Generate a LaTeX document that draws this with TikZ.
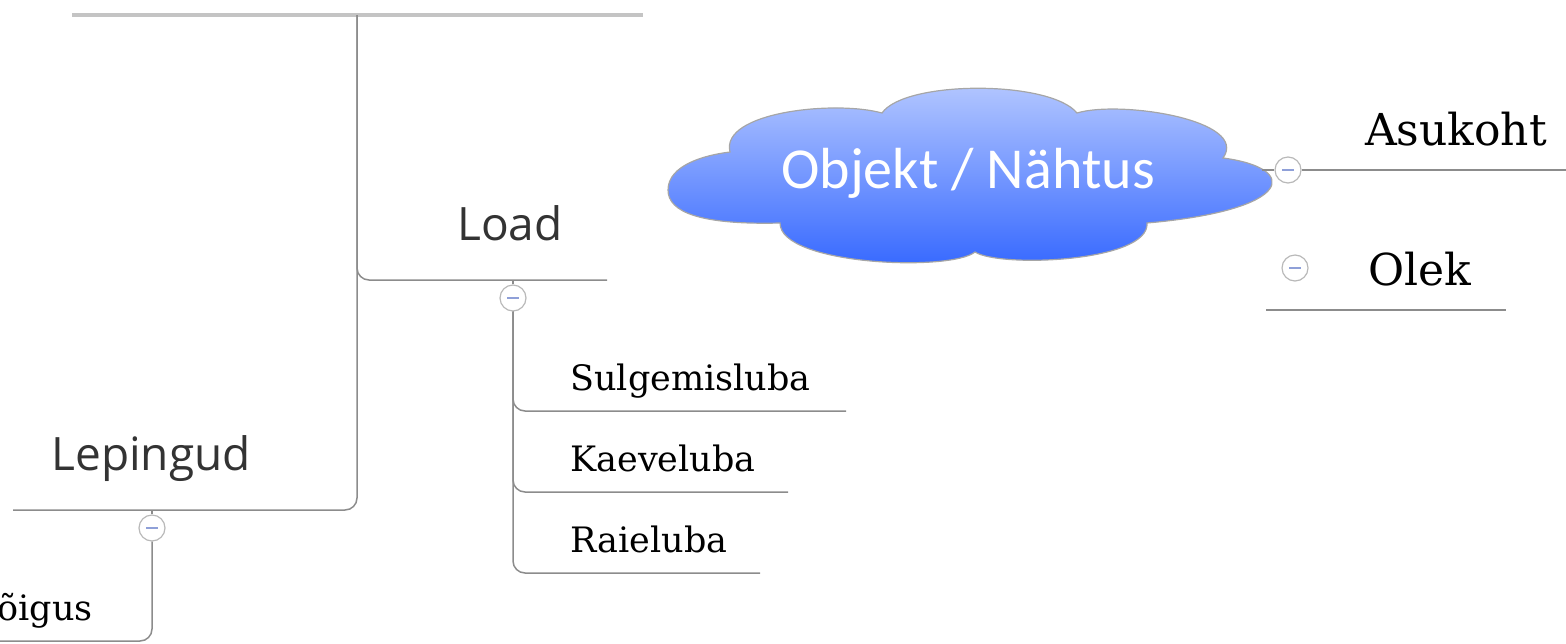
\documentclass[tikz,border=0pt]{standalone}
\usepackage{fontspec}
\setmainfont{DejaVu Serif}
\newfontfamily\mapsans{Open Sans}
\newfontfamily\cloudfont{Carlito}
\usetikzlibrary{positioning}
\definecolor{linegray}{HTML}{8C8C8C}
\definecolor{topgray}{HTML}{C4C4C4}
\definecolor{cloudtop}{HTML}{B5C8FF}
\definecolor{cloudbot}{HTML}{3366FF}
\definecolor{minusblue}{HTML}{8FA0D8}
\tikzset{branch/.style={draw=linegray, line width=0.75pt, rounded corners=6pt}}
\tikzset{topic/.style={font=\mapsans\fontsize{23}{27}\selectfont, text=black!80, inner sep=0pt, anchor=base}}
\tikzset{leaf/.style={font=\fontsize{17.5}{21}\selectfont, inner sep=0pt, anchor=base west}}
\tikzset{bigleaf/.style={font=\fontsize{22}{26}\selectfont, inner sep=0pt, anchor=base}}
\tikzset{fold/.style={circle, draw=gray!55, fill=white, line width=0.6pt, minimum size=13pt, inner sep=0pt,
  path picture={\draw[minusblue, line width=0.7pt] ([xshift=-3pt]path picture bounding box.center) -- ([xshift=3pt]path picture bounding box.center);}}}

\begin{document}
\begin{tikzpicture}[x=0.5pt,y=-0.5pt]
\useasboundingbox (0,0) rectangle (1566,643);

% The top bar
\coordinate (top west) at (72,15);
\coordinate (top east) at (643,15);
\coordinate (hub) at (357,15);
\draw[topgray, line width=1.6pt] (top west) -- (top east);

% Load
\coordinate (load line) at (607,280);
\node[topic] (load) at (510,240) {Load};
\draw[branch] (hub) |- (load line);
\node[fold] (f load) at (513,298) {};
\draw[branch] (f load) -- (f load |- load line);

\coordinate (sulg line) at (846,411);
\coordinate (kaeve line) at (788,492);
\coordinate (raie line) at (760,573);
\node[leaf] (sulg) at (570,390) {Sulgemisluba};
\node[leaf] (kaeve) at (570,471) {Kaeveluba};
\node[leaf] (raie) at (570,552) {Raieluba};
\draw[branch] (f load.south) |- (sulg line);
\draw[branch] (f load.south) |- (kaeve line);
\draw[branch] (f load.south) |- (raie line);

% Lepingud
\coordinate (lep line) at (13,510);
\node[topic] (lep) at (151,470) {Lepingud};
\draw[branch] (hub) |- (lep line);
\node[fold] (f lep) at (152,528) {};
\draw[branch] (f lep) -- (f lep |- lep line);
\coordinate (oigus line) at (0,641);
\node[leaf, anchor=base east] (oigus) at (93,620) {õigus};
\draw[branch] (f lep.south) |- (oigus line);

% The cloud
\shadedraw[top color=cloudtop, bottom color=cloudbot, draw=gray!70, line width=0.6pt]
  (668,190) .. controls (668,165) and (705,155) .. (730,152)
  .. controls (720,112) and (835,100) .. (882,113)
  .. controls (905,80) and (1050,80) .. (1077,113)
  .. controls (1120,100) and (1250,120) .. (1223,158)
  .. controls (1300,168) and (1295,210) .. (1147,223)
  .. controls (1150,262) and (1000,268) .. (975,252)
  .. controls (950,272) and (780,265) .. (780,223)
  .. controls (700,225) and (668,212) .. cycle;
\node[font=\cloudfont\fontsize{29}{33}\selectfont, text=white, inner sep=0pt, anchor=base] (obj) at (968,188) {Objekt / Nähtus};

% Right side
\coordinate (cloud east) at (1262,170);
\node[fold] (f obj) at (1288,170) {};
\draw[branch] (cloud east) -- (f obj);
\coordinate (asu line) at (1566,170);
\draw[branch] (f obj) -- (asu line);
\node[bigleaf] (asu) at (1456,145) {Asukoht};

\node[fold] (f olek) at (1295,268) {};
\node[bigleaf] (olek) at (1420,285) {Olek};
\coordinate (olek west) at (1266,310);
\coordinate (olek east) at (1506,310);
\draw[branch] (olek west) -- (olek east);

\end{tikzpicture}
\end{document}
